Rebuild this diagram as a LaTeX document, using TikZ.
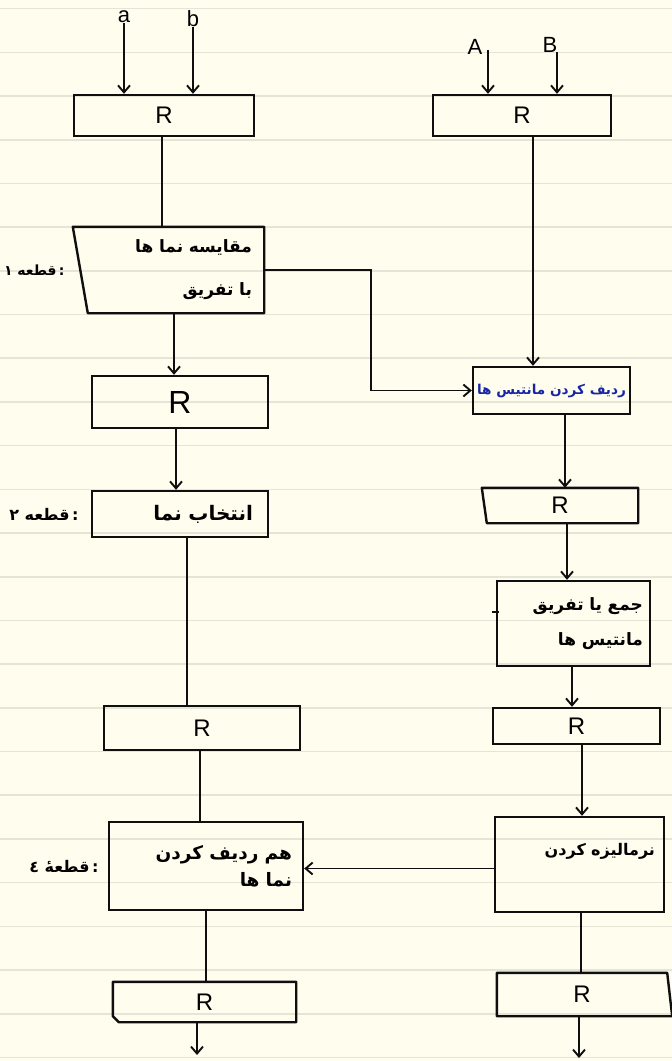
\documentclass[tikz,border=0pt]{standalone}
\usepackage{fontspec}
\setmainfont{Liberation Sans}
\newfontfamily\fa[Script=Arabic]{DejaVu Sans}
\TeXXeTstate=1
\usepackage{xcolor}
\usepackage{tikz}
\usetikzlibrary{arrows.meta,positioning}
\definecolor{paper}{RGB}{255,253,238}
\definecolor{ruling}{RGB}{229,229,215}
\definecolor{ink}{RGB}{15,15,15}
\definecolor{penblue}{RGB}{22,38,165}
\newcommand{\rl}[1]{\beginR #1\endR}
\tikzset{
  block/.style={
    rectangle,
    draw=ink,
    line width=2.4pt,
    inner sep=0pt,
    font=\fontsize{24}{24}\selectfont
  },
  shell/.style={
    rectangle,
    inner sep=0pt,
    font=\fontsize{24}{24}\selectfont
  },
  outline/.style={
    draw=ink,
    line width=2.4pt,
    line join=round
  },
  farsi/.style 2 args={
    font=\fa\bfseries\fontsize{#1}{#2}\selectfont,
    align=right
  },
  tag/.style={
    inner sep=0pt,
    font=\fa\bfseries\fontsize{16}{18}\selectfont
  },
  letter/.style={
    inner sep=0pt,
    font=\fontsize{22}{22}\selectfont
  },
  arrow/.style={
    -{Straight Barb[length=7pt,width=12pt]},
    draw=ink,
    line width=1.9pt
  },
  wire/.style={
    draw=ink,
    line width=1.9pt
  }
}

\begin{document}
\begin{tikzpicture}[x=1pt,y=-1pt]

\fill[paper] (0,0) rectangle (672,1061);
\useasboundingbox (0,0) rectangle (672,1061);
\foreach \k in {-2,...,22}
  \draw[ruling, line width=1.6pt] (0,96+43.7*\k) -- (672,96+43.7*\k);

\node[letter] (la) at (124,17) {a};
\node[letter] (lb) at (193,19) {b};
\node[letter] (lA) at (475,47) {A};
\node[letter] (lB) at (550,45) {B};
\coordinate (inA) at (488,50);
\coordinate (inB) at (557,52);

\node[block, minimum width=180, minimum height=41] (rA) at (164,115.5) {R};
\node[block, minimum width=178, minimum height=41] (rB) at (522,115.5) {R};

\node[shell, farsi={17}{43}, minimum width=191, minimum height=86, text width=167, inner xsep=12] (cmp) at (168.5,270) {\rl{مقایسه نما ها}\\\rl{با تفریق}};
\draw[outline] (cmp.north west) -- (cmp.north east) -- (cmp.south east) -- ([xshift=15]cmp.south west) -- cycle;
\node[tag, left=8pt of cmp, font=\fa\bfseries\fontsize{14}{16}\selectfont] (t1) {\rl{:\,قطعه ۱}};

\node[block, minimum width=176, minimum height=52, font=\fontsize{32}{32}\selectfont] (rC) at (180,402) {R};
\node[block, farsi={20}{22}, minimum width=176, minimum height=46, text width=146, inner xsep=15] (sel) at (180,514) {\rl{انتخاب نما}};
\node[tag, left=12pt of sel] (t2) {\rl{:\,قطعه ۲}};

\node[block, minimum width=196, minimum height=44] (rE) at (202,728) {R};
\node[block, farsi={18.5}{27}, minimum width=194, minimum height=88, text width=172, inner xsep=11] (alnE) at (206,866) {\rl{هم ردیف کردن}\\\rl{نما ها}};
\node[tag, left=9pt of alnE] (t4) {\rl{:\,قطعهٔ ٤}};

\node[shell, minimum width=183, minimum height=40] (rG) at (204.5,1002) {R};
\draw[outline] (rG.north west) -- (rG.north east) -- (rG.south east) -- ([xshift=6]rG.south west) -- ([yshift=6]rG.south west) -- cycle;
\coordinate (outL) at (197,1055);

\node[block, minimum width=157, minimum height=47, font=\fa\bfseries\fontsize{13.6}{16}\selectfont, text=penblue] (alnM) at (551.5,390.5) {\rl{ردیف کردن مانتیس ها}};

\node[shell, minimum width=156, minimum height=35] (rD) at (560,505.5) {R};
\draw[outline] (rD.north west) -- (rD.north east) -- (rD.south east) -- ([xshift=5]rD.south west) -- cycle;

\node[block, farsi={17}{35}, minimum width=153, minimum height=85, text width=139, inner xsep=7] (add) at (573.5,623.5) {\rl{جمع یا تفریق}\\\rl{مانتیس ها}};
\draw[wire] ([xshift=-4,yshift=11.5]add.west) -- ([xshift=3,yshift=11.5]add.west);

\node[block, minimum width=167, minimum height=36] (rF) at (576.5,726) {R};
\node[block, farsi={16}{20}, minimum width=169, minimum height=95, text width=151, inner xsep=9, text height=12pt, text depth=31pt] (norm) at (579.5,864.5) {\rl{نرمالیزه کردن}};

\node[shell, minimum width=170, minimum height=43] (rH) at (582,994.5) {R};
\draw[outline] (rH.north west) -- (rH.north east) -- ([xshift=5]rH.south east) -- (rH.south west) -- cycle;
\coordinate (outR) at (579,1058);

\draw[arrow] (la.south) -- (la.south |- rA.north);
\draw[arrow] (lb.south) -- (lb.south |- rA.north);
\draw[arrow] (inA) -- (inA |- rB.north);
\draw[arrow] (inB) -- (inB |- rB.north);

\draw[wire] ([xshift=-2]rA.south) -- ([xshift=-2]rA.south |- cmp.north);
\draw[arrow] (cmp.east) -| ([xshift=-101]alnM.west) -- (alnM.west);
\draw[arrow] ([xshift=5.5]cmp.south) -- ([xshift=5.5]cmp.south |- rC.north);
\draw[arrow] ([xshift=-4]rC.south) -- ([xshift=-4]rC.south |- sel.north);
\draw[wire] ([xshift=7]sel.south) -- ([xshift=7]sel.south |- rE.north);
\draw[wire] ([xshift=-2]rE.south) -- ([xshift=-2]rE.south |- alnE.north);
\draw[wire] (alnE.south) -- (alnE.south |- rG.north);
\draw[arrow] ([xshift=-7.5]rG.south) -- (outL);

\draw[arrow] ([xshift=11]rB.south) -- ([xshift=11]rB.south |- alnM.north);
\draw[arrow] ([xshift=13.5]alnM.south) -- ([xshift=13.5]alnM.south |- rD.north);
\draw[arrow] ([xshift=7]rD.south) -- ([xshift=7]rD.south |- add.north);
\draw[arrow] ([xshift=-1.5]add.south) -- ([xshift=-1.5]add.south |- rF.north);
\draw[arrow] ([xshift=5.5]rF.south) -- ([xshift=5.5]rF.south |- norm.north);
\draw[arrow] ([yshift=-4]norm.west) -- ([yshift=-4]norm.west -| alnE.east);
\draw[wire] ([xshift=1.5]norm.south) -- ([xshift=1.5]norm.south |- rH.north);
\draw[arrow] ([xshift=-3]rH.south) -- (outR);

\end{tikzpicture}
\end{document}
